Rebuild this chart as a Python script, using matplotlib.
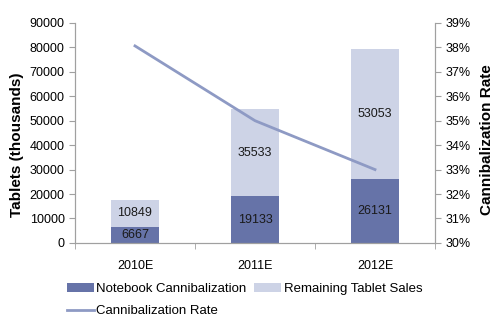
import matplotlib
matplotlib.use("Agg")
import matplotlib.pyplot as plt
import numpy as np

years = ["2010E", "2011E", "2012E"]
notebook = [6667, 19133, 26131]
remaining = [10849, 35533, 53053]
rate = [38.06, 35.0, 33.0]

plt.rcParams['font.family'] = ['Liberation Sans', 'DejaVu Sans']
plt.rcParams['font.size'] = 9

dark = '#6673a8'
light = '#cdd3e6'
line_c = '#8e9ac4'
spine_c = '#a0a0a0'

fig = plt.figure(figsize=(5, 3.23), dpi=100)
ax = fig.add_axes([0.15, 0.248, 0.72, 0.681])
x = np.arange(len(years))

b1 = ax.bar(x, notebook, width=0.4, color=dark, label='Notebook Cannibalization')
b2 = ax.bar(x, remaining, width=0.4, bottom=notebook, color=light, label='Remaining Tablet Sales')
for i in range(len(years)):
    ax.text(x[i], notebook[i] / 2, str(notebook[i]), ha='center', va='center', color='#1a1a1a')
    ax.text(x[i], notebook[i] + remaining[i] / 2, str(remaining[i]), ha='center', va='center', color='#1a1a1a')

ax.set_xlim(-0.5, 2.5)
ax.set_ylim(0, 90000)
ax.set_yticks(range(0, 90001, 10000))
ax.set_xticks(x)
ax.set_xticklabels(years)
ax.set_xticks([-0.5, 0.5, 1.5, 2.5], minor=True)
ax.tick_params(axis='x', which='major', length=0, pad=12)
ax.tick_params(axis='x', which='minor', length=4, color=spine_c)
ax.tick_params(axis='y', length=4, color=spine_c)
ax.set_ylabel('Tablets (thousands)', fontweight='bold', fontsize=11)
ax.yaxis.set_label_coords(-0.142, 0.445)

ax2 = ax.twinx()
l1, = ax2.plot(x, rate, color=line_c, lw=2, label='Cannibalization Rate')
ax2.set_ylim(30, 39)
ax2.set_yticks(range(30, 40))
ax2.set_yticklabels([f'{v}%' for v in range(30, 40)])
ax2.tick_params(axis='y', length=4, color=spine_c)
ax2.set_ylabel('Cannibalization Rate', fontweight='bold', fontsize=11)
ax2.yaxis.set_label_coords(1.126, 0.468)

for a in (ax, ax2):
    a.spines['top'].set_visible(False)
    for s in ('left', 'right', 'bottom'):
        a.spines[s].set_color(spine_c)

fig.legend([b1, l1, b2], ['Notebook Cannibalization', 'Cannibalization Rate', 'Remaining Tablet Sales'],
           ncol=2, loc='upper left', bbox_to_anchor=(0.124, 0.14), frameon=False,
           handlelength=2.0, handletextpad=0.2, columnspacing=0.6, labelspacing=0.75,
           fontsize=9.5, borderaxespad=0)

fig.savefig('out.png', dpi=100)
